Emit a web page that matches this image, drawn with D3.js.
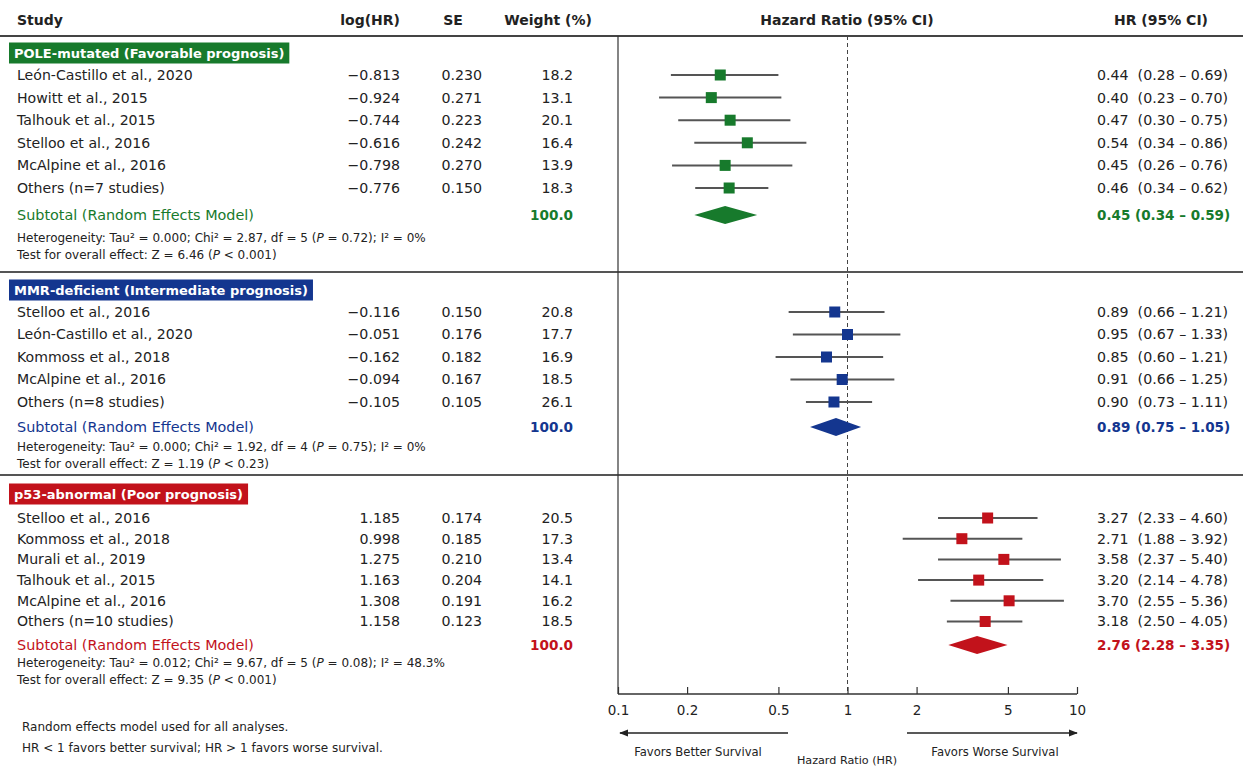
<!DOCTYPE html>
<html>
<head>
<meta charset="utf-8">
<script src="https://cdn.jsdelivr.net/npm/d3@7"></script>
<style>
body{margin:0;background:#fff;}
text{font-family:"DejaVu Sans",sans-serif;fill:#222;}
</style>
</head>
<body>
<svg id="chart"></svg>
<script>
var w=1243;
var h=767;

// ---- data ----
var groupNames=["POLE-mutated (Favorable prognosis)","MMR-deficient (Intermediate prognosis)","p53-abnormal (Poor prognosis)"];
var groupColors=["#177a2c","#14368f","#c2121b"];

var poleStudies=["León-Castillo et al., 2020","Howitt et al., 2015","Talhouk et al., 2015","Stelloo et al., 2016","McAlpine et al., 2016","Others (n=7 studies)"];
var poleLogHR=[-0.813,-0.924,-0.744,-0.616,-0.798,-0.776];
var poleSE=[0.230,0.271,0.223,0.242,0.270,0.150];
var poleWeight=[18.2,13.1,20.1,16.4,13.9,18.3];
var poleHR=[0.44,0.40,0.47,0.54,0.45,0.46];
var poleLo=[0.28,0.23,0.30,0.34,0.26,0.34];
var poleHi=[0.69,0.70,0.75,0.86,0.76,0.62];
var poleSub=[0.45,0.34,0.59];
// marker positions as drawn in the figure (HR scale)
var poleMarkPt=[0.279,0.255,0.308,0.366,0.293,0.305];
var poleMarkLo=[0.170,0.151,0.183,0.215,0.172,0.217];
var poleMarkHi=[0.500,0.515,0.564,0.662,0.575,0.452];
var poleMarkSub=[0.293,0.215,0.404];
var poleHet=["0.000","2.87","5","0.72","0%"];
var poleTest=["6.46","< 0.001"];

var mmrStudies=["Stelloo et al., 2016","León-Castillo et al., 2020","Kommoss et al., 2018","McAlpine et al., 2016","Others (n=8 studies)"];
var mmrLogHR=[-0.116,-0.051,-0.162,-0.094,-0.105];
var mmrSE=[0.150,0.176,0.182,0.167,0.105];
var mmrWeight=[20.8,17.7,16.9,18.5,26.1];
var mmrHR=[0.89,0.95,0.85,0.91,0.90];
var mmrLo=[0.66,0.67,0.60,0.66,0.73];
var mmrHi=[1.21,1.33,1.21,1.25,1.11];
var mmrSub=[0.89,0.75,1.05];
var mmrMarkPt=[0.880,1.00,0.810,0.948,0.873];
var mmrMarkLo=[0.554,0.578,0.486,0.564,0.659];
var mmrMarkHi=[1.45,1.70,1.43,1.60,1.28];
var mmrMarkSub=[0.891,0.687,1.146];
var mmrHet=["0.000","1.92","4","0.75","0%"];
var mmrTest=["1.19","< 0.23"];

var p53Studies=["Stelloo et al., 2016","Kommoss et al., 2018","Murali et al., 2019","Talhouk et al., 2015","McAlpine et al., 2016","Others (n=10 studies)"];
var p53LogHR=[1.185,0.998,1.275,1.163,1.308,1.158];
var p53SE=[0.174,0.185,0.210,0.204,0.191,0.123];
var p53Weight=[20.5,17.3,13.4,14.1,16.2,18.5];
var p53HR=[3.27,2.71,3.58,3.20,3.70,3.18];
var p53Lo=[2.33,1.88,2.37,2.14,2.55,2.50];
var p53Hi=[4.60,3.92,5.40,4.78,5.36,4.05];
var p53Sub=[2.76,2.28,3.35];
var p53MarkPt=[4.08,3.15,4.80,3.73,5.06,3.98];
var p53MarkLo=[2.48,1.74,2.48,2.03,2.81,2.71];
var p53MarkHi=[6.73,5.78,8.51,7.13,8.77,5.78];
var p53MarkSub=[3.67,2.75,4.98];
var p53Het=["0.012","9.67","5","0.08","48.3%"];
var p53Test=["9.35","< 0.001"];

var axisTicks=[0.1,0.2,0.5,1,2,5,10];

// ---- layout ----
var xScale=d3.scaleLog().domain([0.1,10]).range([618,1077]);
var f3=d3.format(".3f"), f1=d3.format(".1f"), f2=d3.format(".2f");
var colStudy=17, colLog=400, colSE=482, colW=573, colHR=1097;
var rowFont=14.1, numFont=14.2, hetFont=12;

var svg=d3.select("#chart").attr("width",w).attr("height",h);

// header
var head=svg.append("g").attr("font-weight","bold").attr("font-size",14);
head.append("text").attr("x",colStudy).attr("y",20).attr("dy","0.35em").text("Study");
head.append("text").attr("x",colLog).attr("y",20).attr("dy","0.35em").attr("text-anchor","end").text("log(HR)");
head.append("text").attr("x",453).attr("y",20).attr("dy","0.35em").attr("text-anchor","middle").text("SE");
head.append("text").attr("x",548).attr("y",20).attr("dy","0.35em").attr("text-anchor","middle").text("Weight (%)");
head.append("text").attr("x",847).attr("y",20).attr("dy","0.35em").attr("text-anchor","middle").text("Hazard Ratio (95% CI)");
head.append("text").attr("x",1161).attr("y",20).attr("dy","0.35em").attr("text-anchor","middle").text("HR (95% CI)");

// frame lines
svg.append("line").attr("x1",0).attr("x2",w).attr("y1",36).attr("y2",36)
   .attr("stroke","#444").attr("stroke-width",2);
[272,475].forEach(function(y){
  svg.append("line").attr("x1",0).attr("x2",w).attr("y1",y).attr("y2",y)
     .attr("stroke","#555").attr("stroke-width",2);
});
svg.append("line").attr("x1",xScale(0.1)).attr("x2",xScale(0.1)).attr("y1",36).attr("y2",694)
   .attr("stroke","#333").attr("stroke-width",1.2);
svg.append("line").attr("x1",xScale(1)).attr("x2",xScale(1)).attr("y1",36).attr("y2",694)
   .attr("stroke","#444").attr("stroke-width",1).attr("stroke-dasharray","4,3");

var groups=[
  {name:groupNames[0],color:groupColors[0],studies:poleStudies,logHR:poleLogHR,se:poleSE,weight:poleWeight,
   hr:poleHR,lo:poleLo,hi:poleHi,sub:poleSub,pt:poleMarkPt,mlo:poleMarkLo,mhi:poleMarkHi,msub:poleMarkSub,
   het:poleHet,test:poleTest,box:53,row0:75,step:22.6,subY:215,hetY:238,testY:255},
  {name:groupNames[1],color:groupColors[1],studies:mmrStudies,logHR:mmrLogHR,se:mmrSE,weight:mmrWeight,
   hr:mmrHR,lo:mmrLo,hi:mmrHi,sub:mmrSub,pt:mmrMarkPt,mlo:mmrMarkLo,mhi:mmrMarkHi,msub:mmrMarkSub,
   het:mmrHet,test:mmrTest,box:290,row0:312,step:22.5,subY:427,hetY:447,testY:464},
  {name:groupNames[2],color:groupColors[2],studies:p53Studies,logHR:p53LogHR,se:p53SE,weight:p53Weight,
   hr:p53HR,lo:p53Lo,hi:p53Hi,sub:p53Sub,pt:p53MarkPt,mlo:p53MarkLo,mhi:p53MarkHi,msub:p53MarkSub,
   het:p53Het,test:p53Test,box:494,row0:518,step:20.7,subY:645,hetY:663,testY:680}
];

groups.forEach(function(gr){
  var g=svg.append("g");
  var rowY=function(i){return gr.row0+i*gr.step;};

  // label box
  var box=g.append("rect").attr("x",9).attr("y",gr.box-10.5).attr("height",21).attr("fill",gr.color);
  var lbl=g.append("text").attr("x",14).attr("y",gr.box).attr("dy","0.35em")
           .attr("font-size",13).attr("font-weight","bold").style("fill","#fff").text(gr.name);
  box.attr("width",lbl.node().getComputedTextLength()+10);

  // table rows
  var rows=g.selectAll("g.row").data(gr.studies).enter().append("g").attr("class","row")
            .attr("font-size",numFont);
  rows.append("text").attr("x",colStudy).attr("y",function(d,i){return rowY(i);}).attr("dy","0.35em")
      .attr("font-size",rowFont).text(function(d){return d;});
  rows.append("text").attr("x",colLog).attr("y",function(d,i){return rowY(i);}).attr("dy","0.35em")
      .attr("text-anchor","end").text(function(d,i){return f3(gr.logHR[i]);});
  rows.append("text").attr("x",colSE).attr("y",function(d,i){return rowY(i);}).attr("dy","0.35em")
      .attr("text-anchor","end").text(function(d,i){return f3(gr.se[i]);});
  rows.append("text").attr("x",colW).attr("y",function(d,i){return rowY(i);}).attr("dy","0.35em")
      .attr("text-anchor","end").text(function(d,i){return f1(gr.weight[i]);});
  rows.append("text").attr("x",colHR).attr("y",function(d,i){return rowY(i);}).attr("dy","0.35em")
      .attr("font-size",14.2)
      .text(function(d,i){return f2(gr.hr[i])+"  ("+f2(gr.lo[i])+" – "+f2(gr.hi[i])+")";})
      .attr("xml:space","preserve");

  // CI lines and squares
  rows.append("line").attr("x1",function(d,i){return xScale(gr.mlo[i]);})
      .attr("x2",function(d,i){return xScale(gr.mhi[i]);})
      .attr("y1",function(d,i){return rowY(i);}).attr("y2",function(d,i){return rowY(i);})
      .attr("stroke","#555").attr("stroke-width",2);
  rows.append("rect").attr("x",function(d,i){return xScale(gr.pt[i])-5.5;})
      .attr("y",function(d,i){return rowY(i)-5.5;})
      .attr("width",11).attr("height",11).attr("fill",gr.color);

  // subtotal
  g.append("text").attr("x",colStudy).attr("y",gr.subY).attr("dy","0.35em").attr("font-size",14.4)
   .style("fill",gr.color).text("Subtotal (Random Effects Model)");
  g.append("text").attr("x",colW).attr("y",gr.subY).attr("dy","0.35em").attr("font-size",13.6)
   .attr("font-weight","bold").attr("text-anchor","end").style("fill",gr.color).text("100.0");
  g.append("text").attr("x",colHR).attr("y",gr.subY).attr("dy","0.35em").attr("font-size",13.5)
   .attr("font-weight","bold").style("fill",gr.color)
   .text(f2(gr.sub[0])+" ("+f2(gr.sub[1])+" – "+f2(gr.sub[2])+")");
  var s=gr.msub;
  g.append("path")
   .attr("d","M"+xScale(s[1])+","+gr.subY+"L"+xScale(s[0])+","+(gr.subY-9)+"L"+xScale(s[2])+","+gr.subY+
             "L"+xScale(s[0])+","+(gr.subY+9)+"Z")
   .attr("fill",gr.color);

  // heterogeneity
  var het=g.append("text").attr("x",colStudy).attr("y",gr.hetY).attr("dy","0.35em").attr("font-size",hetFont);
  het.append("tspan").text("Heterogeneity: Tau² = "+gr.het[0]+"; Chi² = "+gr.het[1]+", df = "+gr.het[2]+" (");
  het.append("tspan").attr("font-style","italic").text("P");
  het.append("tspan").text(" = "+gr.het[3]+"); I² = "+gr.het[4]);
  var tst=g.append("text").attr("x",colStudy).attr("y",gr.testY).attr("dy","0.35em").attr("font-size",hetFont);
  tst.append("tspan").text("Test for overall effect: Z = "+gr.test[0]+" (");
  tst.append("tspan").attr("font-style","italic").text("P");
  tst.append("tspan").text(" "+gr.test[1]+")");
});

// x axis
var xAxis=d3.axisTop(xScale).tickValues(axisTicks).tickSize(7).tickFormat(function(d){return d;});
var ax=svg.append("g").attr("transform","translate(0,694)").call(xAxis);
ax.select(".domain").attr("stroke","#333").attr("stroke-width",1.5).attr("d","M"+xScale(0.1)+",0H"+xScale(10));
ax.selectAll(".tick line").attr("stroke","#333").attr("stroke-width",1.2);
ax.selectAll(".tick text").attr("y",16).attr("dy","0.35em").attr("font-size",13.5)
  .style("font-family","'DejaVu Sans',sans-serif").style("fill","#222");

// favors arrows
svg.append("defs").append("marker").attr("id","arr").attr("viewBox","0 0 10 10")
   .attr("refX",9).attr("refY",5).attr("markerWidth",6).attr("markerHeight",6).attr("orient","auto-start-reverse")
   .append("path").attr("d","M0,1L10,5L0,9Z").attr("fill","#222");
svg.append("line").attr("x1",788).attr("x2",620).attr("y1",733).attr("y2",733)
   .attr("stroke","#222").attr("stroke-width",1.5).attr("marker-end","url(#arr)");
svg.append("line").attr("x1",907).attr("x2",1077).attr("y1",733).attr("y2",733)
   .attr("stroke","#222").attr("stroke-width",1.5).attr("marker-end","url(#arr)");
svg.append("text").attr("x",698).attr("y",752).attr("dy","0.35em").attr("font-size",11.6)
   .attr("text-anchor","middle").text("Favors Better Survival");
svg.append("text").attr("x",995).attr("y",752).attr("dy","0.35em").attr("font-size",11.6)
   .attr("text-anchor","middle").text("Favors Worse Survival");
svg.append("text").attr("x",847).attr("y",760).attr("dy","0.35em").attr("font-size",11.2)
   .attr("text-anchor","middle").text("Hazard Ratio (HR)");

// footnotes
svg.append("text").attr("x",22).attr("y",727).attr("dy","0.35em").attr("font-size",12)
   .text("Random effects model used for all analyses.");
svg.append("text").attr("x",22).attr("y",748).attr("dy","0.35em").attr("font-size",12)
   .text("HR < 1 favors better survival; HR > 1 favors worse survival.");
</script>
</body>
</html>
